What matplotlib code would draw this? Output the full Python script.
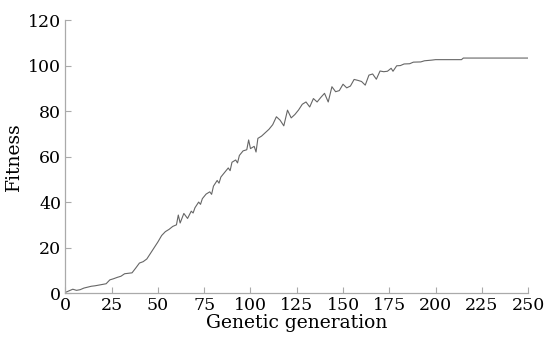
import matplotlib
matplotlib.use("Agg")
import matplotlib.pyplot as plt

# fitness of best individual per generation
gens = [0, 2, 4, 6, 8, 10, 12, 14, 16, 18, 20, 22, 24, 26, 28, 30, 32, 34, 36, 38,
        40, 42, 44, 46, 48, 50, 52, 54, 56, 58, 60, 61, 62, 64, 66, 68, 69, 70, 72, 73,
        74, 76, 78, 79, 80, 82, 83, 84, 86, 88, 89, 90, 92, 93, 94, 96, 98, 99, 100, 102,
        103, 104, 106, 108, 110, 112, 114, 116, 118, 120, 122, 124, 126, 128, 130, 132, 134, 136, 138, 140,
        142, 144, 146, 148, 150, 152, 154, 156, 158, 160, 162, 164, 166, 168, 170, 172, 174, 176, 177, 179,
        181, 183, 186, 188, 192, 194, 198, 200, 214, 215, 250]
fitness = [0.3, 1.0, 1.7, 1.2, 1.5, 2.2, 2.6, 3.0, 3.2, 3.5, 3.8, 4.1, 5.8, 6.3, 6.9, 7.4, 8.5, 8.7, 8.9, 11.0,
           13.2, 13.8, 15.0, 17.5, 20.0, 22.5, 25.3, 27.0, 28.0, 29.3, 30.0, 34.3, 30.8, 35.0, 32.8, 36.0, 35.2, 37.5, 40.0, 39.0,
           41.5, 43.5, 44.5, 43.4, 47.0, 49.5, 48.3, 51.0, 53.0, 55.0, 53.8, 57.5, 58.5, 57.2, 60.5, 62.5, 63.0, 67.3, 63.5, 64.5,
           62.0, 68.0, 69.0, 70.5, 72.0, 74.0, 77.5, 76.0, 73.5, 80.4, 77.0, 78.5, 80.5, 83.0, 84.0, 81.8, 85.5, 84.0, 86.0, 87.8,
           84.0, 90.7, 88.5, 89.0, 91.8, 90.2, 91.0, 93.9, 93.5, 93.0, 91.4, 95.8, 96.3, 94.0, 97.6, 97.3, 97.5, 98.8, 97.5, 99.9,
           100.0, 100.7, 100.8, 101.5, 101.6, 102.1, 102.4, 102.6, 102.6, 103.3, 103.3]

xticks = [0, 25, 50, 75, 100, 125, 150, 175, 200, 225, 250]
yticks = [0, 20, 40, 60, 80, 100, 120]

plt.rcParams['font.family'] = ['DejaVu Serif']

fig = plt.figure(figsize=(5.45, 3.4), dpi=100)
ax = fig.add_axes([0.12, 0.138, 0.849, 0.803])
ax.plot(gens, fitness, color='#666666', linewidth=0.8)

ax.set_xlim(0, 250)
ax.set_ylim(0, 120)
ax.set_xticks(xticks)
ax.set_yticks(yticks)
for s in ['top', 'right']:
    ax.spines[s].set_visible(False)
for s in ['left', 'bottom']:
    ax.spines[s].set_color('#aaaaaa')
    ax.spines[s].set_linewidth(0.9)
ax.tick_params(direction='in', length=4, color='#aaaaaa', labelsize=12.5, pad=3)

ax.set_xlabel('Genetic generation', fontsize=13.5, labelpad=0)
ax.set_ylabel('Fitness', fontsize=13.5, labelpad=4)

fig.savefig('out.png', dpi=100)
